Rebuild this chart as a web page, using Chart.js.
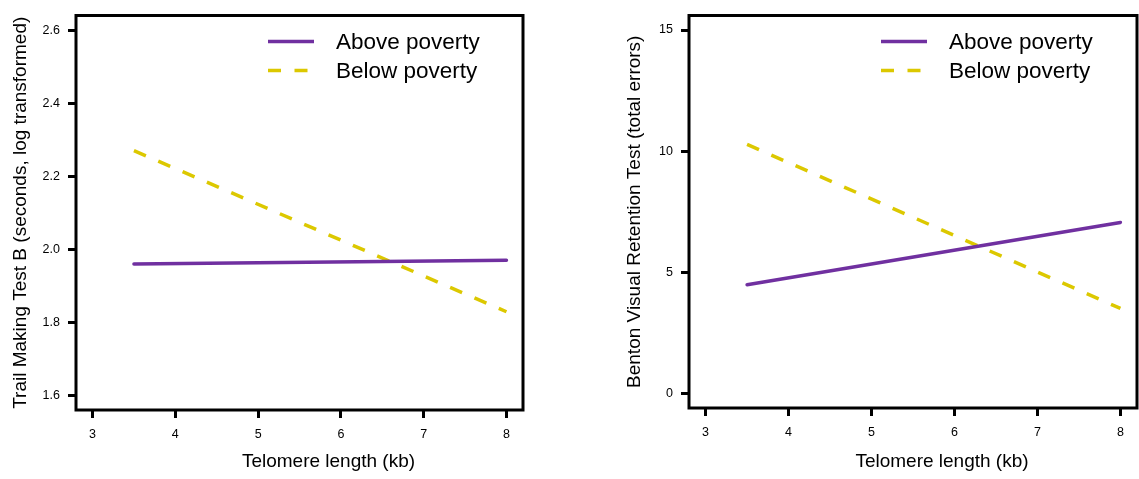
<!DOCTYPE html>
<html><head><meta charset="utf-8">
<script src="https://cdn.jsdelivr.net/npm/chart.js@4/dist/chart.umd.min.js"></script>
<style>
html,body{margin:0;padding:0;background:#fff;}
#wrap{position:relative;width:1139px;height:479px;overflow:hidden;}
.p{position:absolute;top:0;height:479px;}
#p1{left:0;width:570px;}
#p2{left:570px;width:569px;}
</style></head><body>
<div id="wrap"><div class="p" id="p1"><canvas id="c1"></canvas></div><div class="p" id="p2"><canvas id="c2"></canvas></div></div>
<script>
const telomereX = [3.5, 8];
const seriesLabels = ['Above poverty', 'Below poverty'];
const trailAbove = [1.960, 1.970];
const trailBelow = [2.270, 1.829];
const bentonAbove = [4.49, 7.06];
const bentonBelow = [10.28, 3.51];
const xTicks = [3, 4, 5, 6, 7, 8];
const trailTicks = [1.6, 1.8, 2.0, 2.2, 2.4, 2.6];
const bentonTicks = [0, 5, 10, 15];
const xTitle = 'Telomere length (kb)';
const trailTitle = 'Trail Making Test B (seconds, log transformed)';
const bentonTitle = 'Benton Visual Retention Test (total errors)';

const FAM = '"Liberation Sans", Arial, Helvetica, sans-serif';
const PURPLE = '#7030a0';
const YELLOW = '#dcc800';

function ext(arr) {
  const mn = Math.min(...arr), mx = Math.max(...arr), r = mx - mn;
  return [mn - 0.04 * r, mx + 0.04 * r];
}

const boxPlugin = {
  id: 'box',
  afterDraw(chart) {
    const {ctx, chartArea: a} = chart;
    ctx.save();
    ctx.strokeStyle = '#000';
    ctx.lineWidth = 3;
    ctx.strokeRect(a.left, a.top, a.right - a.left, a.bottom - a.top);
    ctx.restore();
  }
};
const legendPlugin = {
  id: 'rlegend',
  afterDraw(chart) {
    const {ctx, chartArea: a} = chart;
    ctx.save();
    chart.data.datasets.forEach((ds, i) => {
      const y = a.top + 26 + i * 29;
      ctx.beginPath();
      ctx.strokeStyle = ds.borderColor;
      ctx.lineWidth = ds.borderWidth;
      ctx.lineCap = 'butt';
      ctx.setLineDash(ds.borderDash || []);
      ctx.moveTo(a.left + 192, y);
      ctx.lineTo(a.left + 238, y);
      ctx.stroke();
      ctx.setLineDash([]);
      ctx.fillStyle = '#000';
      ctx.font = '22.5px ' + FAM;
      ctx.textAlign = 'left';
      ctx.textBaseline = 'middle';
      ctx.fillText(ds.label, a.left + 260, y + 1);
    });
    ctx.restore();
  }
};
const xTitlePlugin = {
  id: 'xtitle',
  afterDraw(chart) {
    const {ctx, chartArea: a} = chart;
    ctx.save();
    ctx.fillStyle = '#000';
    ctx.font = '19px ' + FAM;
    ctx.textAlign = 'center';
    ctx.textBaseline = 'middle';
    ctx.fillText(xTitle, (a.left + a.right) / 2 + 29, 462);
    ctx.restore();
  }
};

function makeChart(id, above, below, yTicks, yTitle, geo) {
  const [xmin, xmax] = ext(xTicks);
  const [ymin, ymax] = ext(yTicks);
  const dec = yTicks.some(v => !Number.isInteger(v)) ? 1 : 0;
  return new Chart(document.getElementById(id), {
    type: 'line',
    data: {
      datasets: [
        {label: seriesLabels[0], data: telomereX.map((x, i) => ({x, y: above[i]})),
         borderColor: PURPLE, borderWidth: 3.5, pointRadius: 0, borderCapStyle: 'round', fill: false},
        {label: seriesLabels[1], data: telomereX.map((x, i) => ({x, y: below[i]})),
         borderColor: YELLOW, borderWidth: 3.5, pointRadius: 0, borderDash: [13, 13.5], borderCapStyle: 'butt', fill: false}
      ]
    },
    options: {
      responsive: true, maintainAspectRatio: false, animation: false,
      layout: {padding: {top: geo.top, right: geo.right, bottom: 0, left: 0}},
      plugins: {legend: {display: false}, tooltip: {enabled: false}},
      scales: {
        x: {
          type: 'linear', min: xmin, max: xmax,
          afterBuildTicks: s => { s.ticks = xTicks.map(v => ({value: v})); },
          afterFit: s => { s.height = geo.xh; },
          grid: {display: true, drawOnChartArea: false, drawTicks: true, tickLength: 8, tickWidth: 3, tickColor: '#000', lineWidth: 3, color: '#000'},
          border: {display: false},
          ticks: {color: '#000', font: {size: 12.5, family: FAM}, padding: 9, maxRotation: 0, autoSkip: false,
                  callback: v => String(v)}
        },
        y: {
          type: 'linear', min: ymin, max: ymax,
          afterBuildTicks: s => { s.ticks = yTicks.map(v => ({value: v})); },
          afterFit: s => { s.width = geo.yw; },
          grid: {display: true, drawOnChartArea: false, drawTicks: true, tickLength: 8, tickWidth: 3, tickColor: '#000', lineWidth: 3, color: '#000'},
          border: {display: false},
          ticks: {color: '#000', font: {size: 12.5, family: FAM}, padding: 8, autoSkip: false,
                  callback: v => Number(v).toFixed(dec)},
          title: {display: true, text: yTitle, color: '#000', font: {size: 19, family: FAM},
                  padding: {top: geo.tp, bottom: 0}}
        }
      }
    },
    plugins: [boxPlugin, legendPlugin, xTitlePlugin]
  });
}

makeChart('c1', trailAbove, trailBelow, trailTicks, trailTitle, {top: 7, right: 47, xh: 69, yw: 76, tp: 9.6});
makeChart('c2', bentonAbove, bentonBelow, bentonTicks, bentonTitle, {top: 8, right: 2, xh: 71, yw: 119, tp: 53.6});
</script>
</body></html>
